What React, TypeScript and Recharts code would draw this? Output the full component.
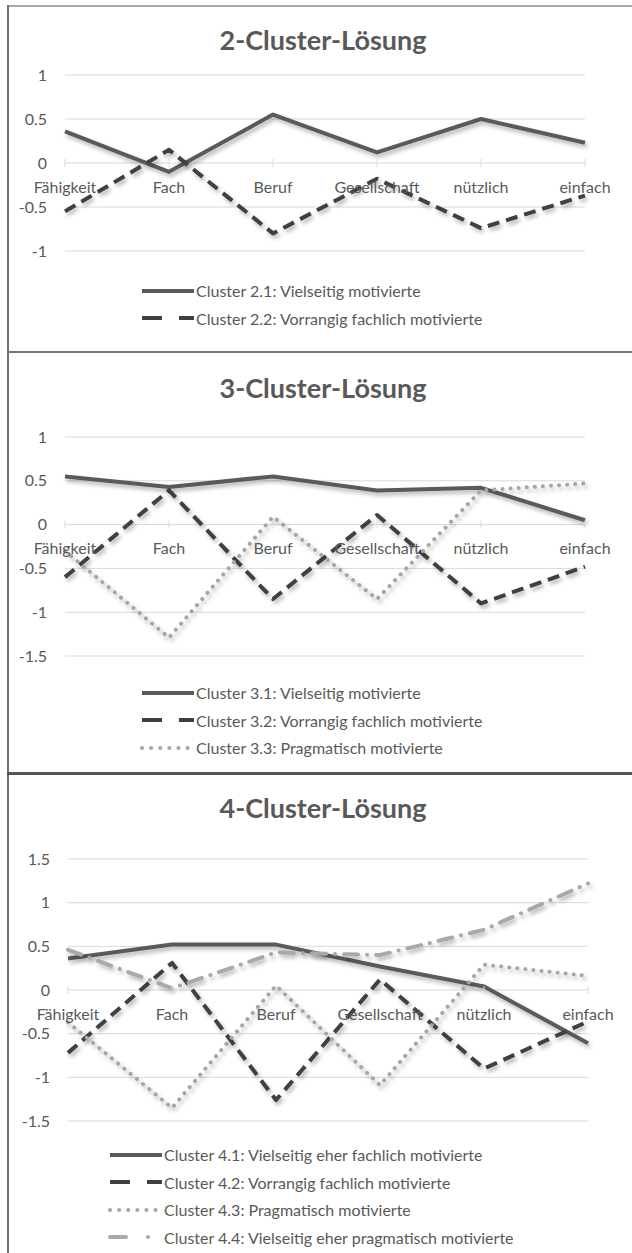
import { LineChart, Line, XAxis, YAxis, CartesianGrid } from "recharts";

const categories = ["Fähigkeit", "Fach", "Beruf", "Gesellschaft", "nützlich", "einfach"];

const cluster21 = [0.36, -0.1, 0.55, 0.12, 0.5, 0.23];
const cluster22 = [-0.55, 0.15, -0.8, -0.18, -0.74, -0.37];

const cluster31 = [0.55, 0.43, 0.55, 0.39, 0.42, 0.05];
const cluster32 = [-0.6, 0.39, -0.85, 0.11, -0.9, -0.48];
const cluster33 = [-0.3, -1.29, 0.09, -0.85, 0.39, 0.47];

const cluster41 = [0.36, 0.52, 0.52, 0.27, 0.04, -0.61];
const cluster42 = [-0.72, 0.31, -1.26, 0.12, -0.9, -0.36];
const cluster43 = [-0.37, -1.35, 0.05, -1.09, 0.29, 0.16];
const cluster44 = [0.46, 0.02, 0.43, 0.4, 0.69, 1.22];

const ticks2 = [-1, -0.5, 0, 0.5, 1];
const ticks3 = [-1.5, -1, -0.5, 0, 0.5, 1];
const ticks4 = [-1.5, -1, -0.5, 0, 0.5, 1, 1.5];

const FONT = "Lato, 'Open Sans', sans-serif";
const TEXT = "#595959";
const GRID = "#d9d9d9";
const AXIS_H = 30;

type LineStyle = { color: string; dash?: string; legendDash?: string; cap: "butt" | "round" };

const solid: LineStyle = { color: "#5a5a5a", cap: "butt" };
const dashed: LineStyle = { color: "#3f3f3f", dash: "12 7", legendDash: "20 17", cap: "butt" };
const dotted: LineStyle = { color: "#a6a6a6", dash: "0.1 8", legendDash: "0.1 9", cap: "round" };
const dashDot: LineStyle = { color: "#a9a9a9", dash: "14 9 0.1 9", legendDash: "16 22 0.1 40", cap: "round" };

type Series = { key: string; name: string; values: number[]; style: LineStyle };

const makeRows = (series: Series[]) =>
  categories.map((c, i) => {
    const row: Record<string, string | number> = { cat: c };
    series.forEach((s) => (row[s.key] = s.values[i]));
    return row;
  });

const series2: Series[] = [
  { key: "c21", name: "Cluster 2.1: Vielseitig motivierte", values: cluster21, style: solid },
  { key: "c22", name: "Cluster 2.2: Vorrangig fachlich motivierte", values: cluster22, style: dashed },
];
const series3: Series[] = [
  { key: "c31", name: "Cluster 3.1: Vielseitig motivierte", values: cluster31, style: solid },
  { key: "c32", name: "Cluster 3.2: Vorrangig fachlich motivierte", values: cluster32, style: dashed },
  { key: "c33", name: "Cluster 3.3: Pragmatisch motivierte", values: cluster33, style: dotted },
];
const series4: Series[] = [
  { key: "c41", name: "Cluster 4.1: Vielseitig eher fachlich motivierte", values: cluster41, style: solid },
  { key: "c42", name: "Cluster 4.2: Vorrangig fachlich motivierte", values: cluster42, style: dashed },
  { key: "c43", name: "Cluster 4.3: Pragmatisch motivierte", values: cluster43, style: dotted },
  { key: "c44", name: "Cluster 4.4: Vielseitig eher pragmatisch motivierte", values: cluster44, style: dashDot },
];

type PanelProps = {
  id: string;
  title: string;
  top: number;
  titleY: number;
  plotTop: number;
  plotBottom: number;
  plotLeft: number;
  plotRight: number;
  ticks: number[];
  series: Series[];
  legendTop: number;
  legendLeft: number;
};

function Panel(p: PanelProps) {
  const min = p.ticks[0];
  const max = p.ticks[p.ticks.length - 1];
  const plotH = p.plotBottom - p.plotTop;
  const zeroUp = ((0 - min) / (max - min)) * plotH;
  const h = p.plotBottom + AXIS_H;

  // category labels sit under the zero line, like Excel's axis crossing at 0
  const CatTick = (props: any) => {
    const { x, y, payload } = props;
    const zy = y - zeroUp;
    return (
      <g>
        <line x1={x} x2={x} y1={zy - 4} y2={zy + 4} stroke={GRID} strokeWidth={1} />
        <text x={x} y={zy + 23} textAnchor="middle" dominantBaseline="central" fill={TEXT} fontSize={16} fontFamily={FONT}>
          {payload.value}
        </text>
      </g>
    );
  };

  return (
    <>
      <div
        style={{
          position: "absolute",
          top: p.top + p.titleY - 17,
          left: 0,
          width: 646,
          textAlign: "center",
          fontFamily: FONT,
          fontWeight: 700,
          fontSize: 27,
          lineHeight: "34px",
          color: TEXT,
        }}
      >
        {p.title}
      </div>
      <div style={{ position: "absolute", top: p.top, left: 0 }}>
        <LineChart
          width={632}
          height={h}
          data={makeRows(p.series)}
          margin={{ top: p.plotTop, right: 632 - p.plotRight, bottom: 0, left: 0 }}
        >
          <defs>
            <filter id={`sh-${p.id}`} filterUnits="userSpaceOnUse" x={0} y={0} width={632} height={h}>
              <feDropShadow dx={2} dy={3} stdDeviation={2} floodColor="#000" floodOpacity={0.3} />
            </filter>
          </defs>
          <CartesianGrid vertical={false} stroke={GRID} />
          <XAxis
            dataKey="cat"
            height={AXIS_H}
            axisLine={false}
            tickLine={false}
            tickSize={0}
            tickMargin={0}
            interval={0}
            tick={CatTick}
          />
          <YAxis
            width={p.plotLeft}
            domain={[min, max]}
            ticks={p.ticks}
            interval={0}
            axisLine={false}
            tickLine={false}
            tickSize={0}
            tickMargin={18}
            tick={{ fill: TEXT, fontSize: 16, fontFamily: FONT }}
          />
          {p.series.map((s) => (
            <Line
              key={s.key}
              dataKey={s.key}
              stroke={s.style.color}
              strokeWidth={4}
              strokeDasharray={s.style.dash}
              strokeLinecap={s.style.cap}
              strokeLinejoin="round"
              dot={false}
              activeDot={false}
              filter={`url(#sh-${p.id})`}
              isAnimationActive={false}
            />
          ))}
        </LineChart>
      </div>
      <div style={{ position: "absolute", top: p.top + p.legendTop, left: p.legendLeft, fontFamily: FONT }}>
        {p.series.map((s) => (
          <div key={s.key} style={{ display: "flex", alignItems: "center", height: 27.5 }}>
            <svg width={55} height={10}>
              <line
                x1={3}
                x2={55}
                y1={5}
                y2={5}
                stroke={s.style.color}
                strokeWidth={4}
                strokeDasharray={s.style.legendDash}
                strokeLinecap={s.style.cap}
              />
            </svg>
            <span style={{ fontSize: 16, color: TEXT, marginLeft: 2, whiteSpace: "nowrap" }}>{s.name}</span>
          </div>
        ))}
      </div>
    </>
  );
}

export default function App() {
  return (
    <div style={{ position: "absolute", left: 0, top: 0, width: 632, height: 1253, background: "#fff", overflow: "hidden" }}>
      <div style={{ position: "absolute", top: 5, left: 7, width: 625, height: 2, background: "#a8a8a8" }} />
      <div style={{ position: "absolute", top: 5, left: 7, width: 2, height: 1248, background: "#707070" }} />
      <div style={{ position: "absolute", top: 351, left: 7, width: 625, height: 2, background: "#787878" }} />
      <div style={{ position: "absolute", top: 772, left: 7, width: 625, height: 3, background: "#555" }} />
      <Panel
        id="p2"
        title="2-Cluster-Lösung"
        top={0}
        titleY={40}
        plotTop={75}
        plotBottom={251}
        plotLeft={65}
        plotRight={585}
        ticks={ticks2}
        series={series2}
        legendTop={277}
        legendLeft={139}
      />
      <Panel
        id="p3"
        title="3-Cluster-Lösung"
        top={353}
        titleY={35}
        plotTop={84}
        plotBottom={303}
        plotLeft={65}
        plotRight={585}
        ticks={ticks3}
        series={series3}
        legendTop={326}
        legendLeft={139}
      />
      <Panel
        id="p4"
        title="4-Cluster-Lösung"
        top={775}
        titleY={33}
        plotTop={84}
        plotBottom={346}
        plotLeft={68}
        plotRight={588}
        ticks={ticks4}
        series={series4}
        legendTop={366}
        legendLeft={107}
      />
    </div>
  );
}
